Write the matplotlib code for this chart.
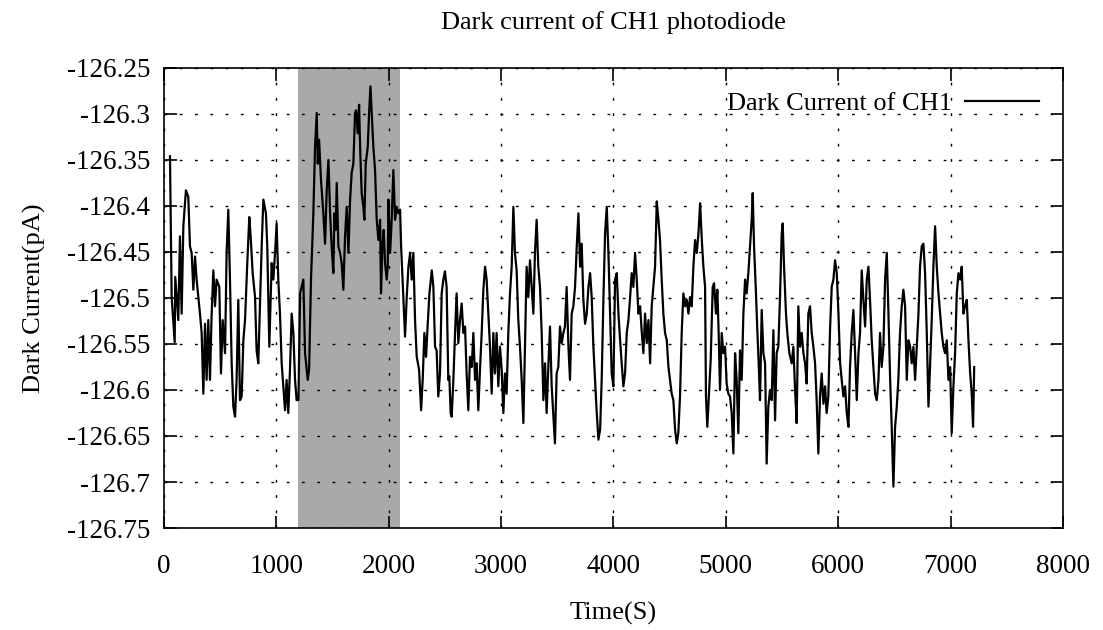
import matplotlib
matplotlib.use("Agg")
import matplotlib.pyplot as plt
from matplotlib.ticker import FuncFormatter

# time (s) and dark current (pA)
time = [53, 68, 95, 100, 127, 142, 157, 172, 195, 216, 231, 246, 261, 276, 290, 320, 335, 350, 365, 379,
        394, 409, 424, 439, 454, 468, 492, 507, 522, 543, 557, 572, 587, 602, 617, 632, 646, 661, 676, 691,
        706, 721, 741, 759, 771, 789, 810, 824, 839, 854, 869, 884, 907, 919, 937, 958, 973, 988, 1002, 1017,
        1032, 1047, 1062, 1077, 1091, 1106, 1121, 1136, 1151, 1166, 1180, 1196, 1211, 1225, 1240, 1255, 1279, 1291, 1308, 1329,
        1344, 1359, 1368, 1380, 1397, 1418, 1433, 1448, 1463, 1478, 1492, 1507, 1516, 1528, 1537, 1552, 1567, 1581, 1596, 1611,
        1626, 1641, 1656, 1670, 1685, 1700, 1709, 1724, 1736, 1745, 1759, 1774, 1783, 1795, 1813, 1825, 1837, 1848, 1863, 1878,
        1893, 1908, 1923, 1931, 1943, 1955, 1967, 1982, 1991, 1997, 2012, 2026, 2041, 2056, 2071, 2086, 2101, 2110, 2130, 2145,
        2160, 2175, 2190, 2204, 2219, 2234, 2249, 2270, 2288, 2302, 2317, 2332, 2347, 2362, 2383, 2397, 2412, 2426, 2441, 2456,
        2471, 2486, 2500, 2515, 2530, 2539, 2551, 2560, 2575, 2590, 2604, 2619, 2634, 2649, 2664, 2679, 2693, 2708, 2723, 2738,
        2753, 2768, 2782, 2797, 2812, 2827, 2842, 2857, 2871, 2886, 2901, 2916, 2931, 2945, 2960, 2975, 2990, 3005, 3020, 3034,
        3049, 3064, 3079, 3094, 3109, 3123, 3138, 3153, 3168, 3183, 3198, 3212, 3227, 3242, 3257, 3272, 3287, 3301, 3316, 3331,
        3346, 3361, 3376, 3391, 3405, 3420, 3435, 3450, 3465, 3479, 3494, 3509, 3524, 3539, 3554, 3568, 3583, 3599, 3613, 3628,
        3643, 3658, 3673, 3688, 3703, 3717, 3732, 3747, 3762, 3777, 3792, 3806, 3821, 3836, 3851, 3866, 3881, 3895, 3910, 3925,
        3940, 3955, 3970, 3984, 3999, 4014, 4029, 4044, 4059, 4073, 4088, 4103, 4118, 4133, 4148, 4162, 4177, 4192, 4207, 4222,
        4237, 4252, 4266, 4281, 4296, 4311, 4326, 4340, 4355, 4370, 4385, 4400, 4414, 4429, 4444, 4459, 4474, 4489, 4503, 4518,
        4533, 4548, 4563, 4577, 4592, 4607, 4622, 4637, 4652, 4667, 4681, 4696, 4711, 4726, 4741, 4756, 4771, 4786, 4800, 4815,
        4823, 4835, 4853, 4865, 4883, 4895, 4912, 4924, 4936, 4948, 4963, 4978, 4993, 5007, 5022, 5037, 5052, 5067, 5082, 5096,
        5111, 5126, 5141, 5156, 5171, 5185, 5200, 5215, 5230, 5239, 5251, 5268, 5280, 5292, 5304, 5319, 5334, 5349, 5363, 5378,
        5393, 5408, 5423, 5438, 5452, 5467, 5482, 5497, 5506, 5518, 5535, 5547, 5565, 5586, 5601, 5616, 5630, 5645, 5660, 5675,
        5690, 5705, 5719, 5734, 5749, 5764, 5779, 5794, 5808, 5823, 5838, 5853, 5868, 5883, 5897, 5912, 5927, 5942, 5957, 5972,
        5987, 6002, 6017, 6031, 6046, 6061, 6076, 6091, 6105, 6120, 6135, 6150, 6165, 6180, 6194, 6209, 6224, 6239, 6254, 6269,
        6283, 6298, 6313, 6328, 6343, 6358, 6372, 6387, 6402, 6417, 6432, 6447, 6462, 6476, 6491, 6506, 6521, 6535, 6550, 6565,
        6580, 6595, 6610, 6625, 6640, 6654, 6669, 6684, 6699, 6714, 6728, 6743, 6758, 6773, 6788, 6803, 6817, 6832, 6847, 6862,
        6877, 6892, 6907, 6921, 6936, 6951, 6966, 6981, 6996, 7010, 7025, 7040, 7055, 7070, 7085, 7099, 7114, 7129, 7144, 7159,
        7174, 7188, 7200, 7210]
current = [-126.346, -126.499, -126.548, -126.477, -126.524, -126.433, -126.517, -126.422, -126.383, -126.390,
           -126.444, -126.451, -126.491, -126.455, -126.480, -126.517, -126.538, -126.604, -126.528, -126.589,
           -126.524, -126.589, -126.517, -126.470, -126.509, -126.480, -126.488, -126.582, -126.524, -126.560,
           -126.451, -126.404, -126.480, -126.571, -126.618, -126.629, -126.589, -126.502, -126.611, -126.607,
           -126.546, -126.524, -126.462, -126.412, -126.433, -126.473, -126.499, -126.557, -126.571, -126.509,
           -126.444, -126.393, -126.408, -126.444, -126.553, -126.462, -126.480, -126.451, -126.419, -126.480,
           -126.517, -126.571, -126.596, -126.622, -126.589, -126.625, -126.578, -126.517, -126.538, -126.589,
           -126.611, -126.611, -126.495, -126.488, -126.480, -126.560, -126.589, -126.578, -126.480, -126.408,
           -126.336, -126.299, -126.354, -126.328, -126.372, -126.408, -126.441, -126.383, -126.350, -126.408,
           -126.444, -126.473, -126.408, -126.426, -126.375, -126.444, -126.451, -126.462, -126.491, -126.433,
           -126.401, -126.451, -126.393, -126.364, -126.354, -126.299, -126.296, -126.321, -126.290, -126.336,
           -126.386, -126.401, -126.415, -126.354, -126.336, -126.299, -126.270, -126.299, -126.336, -126.361,
           -126.415, -126.437, -126.415, -126.495, -126.444, -126.426, -126.462, -126.480, -126.466, -126.393,
           -126.451, -126.415, -126.361, -126.415, -126.401, -126.408, -126.404, -126.444, -126.499, -126.542,
           -126.499, -126.466, -126.451, -126.480, -126.451, -126.524, -126.564, -126.578, -126.622, -126.589,
           -126.538, -126.564, -126.528, -126.495, -126.470, -126.488, -126.553, -126.557, -126.607, -126.582,
           -126.495, -126.480, -126.471, -126.488, -126.589, -126.585, -126.625, -126.629, -126.589, -126.538,
           -126.495, -126.549, -126.524, -126.506, -126.538, -126.531, -126.582, -126.622, -126.564, -126.575,
           -126.538, -126.589, -126.571, -126.622, -126.578, -126.538, -126.491, -126.466, -126.480, -126.517,
           -126.553, -126.604, -126.538, -126.582, -126.538, -126.596, -126.553, -126.578, -126.625, -126.582,
           -126.604, -126.538, -126.495, -126.466, -126.401, -126.451, -126.470, -126.524, -126.553, -126.589,
           -126.636, -126.553, -126.466, -126.499, -126.459, -126.488, -126.517, -126.451, -126.415, -126.466,
           -126.488, -126.538, -126.611, -126.571, -126.625, -126.575, -126.531, -126.596, -126.629, -126.658,
           -126.582, -126.575, -126.531, -126.549, -126.538, -126.531, -126.488, -126.553, -126.589, -126.517,
           -126.509, -126.488, -126.444, -126.408, -126.466, -126.441, -126.502, -126.528, -126.517, -126.488,
           -126.473, -126.499, -126.553, -126.589, -126.625, -126.654, -126.643, -126.589, -126.502, -126.430,
           -126.401, -126.451, -126.517, -126.582, -126.596, -126.480, -126.473, -126.517, -126.546, -126.571,
           -126.596, -126.582, -126.538, -126.524, -126.499, -126.473, -126.488, -126.451, -126.480, -126.517,
           -126.509, -126.538, -126.560, -126.517, -126.549, -126.524, -126.571, -126.509, -126.488, -126.466,
           -126.395, -126.415, -126.437, -126.480, -126.517, -126.538, -126.546, -126.575, -126.589, -126.604,
           -126.611, -126.643, -126.658, -126.647, -126.607, -126.538, -126.495, -126.509, -126.502, -126.517,
           -126.499, -126.509, -126.466, -126.437, -126.451, -126.430, -126.397, -126.437, -126.466, -126.488,
           -126.607, -126.640, -126.596, -126.567, -126.488, -126.484, -126.517, -126.491, -126.538, -126.600,
           -126.538, -126.560, -126.553, -126.593, -126.604, -126.607, -126.625, -126.669, -126.560, -126.589,
           -126.647, -126.557, -126.589, -126.517, -126.480, -126.495, -126.473, -126.444, -126.415, -126.386,
           -126.444, -126.495, -126.535, -126.571, -126.611, -126.513, -126.560, -126.571, -126.680, -126.618,
           -126.600, -126.611, -126.535, -126.633, -126.560, -126.553, -126.499, -126.430, -126.419, -126.466,
           -126.517, -126.538, -126.560, -126.571, -126.553, -126.600, -126.636, -126.509, -126.553, -126.538,
           -126.560, -126.571, -126.593, -126.517, -126.509, -126.538, -126.553, -126.571, -126.611, -126.669,
           -126.607, -126.582, -126.615, -126.596, -126.625, -126.607, -126.535, -126.488, -126.480, -126.459,
           -126.473, -126.517, -126.571, -126.589, -126.607, -126.596, -126.625, -126.640, -126.575, -126.538,
           -126.513, -126.560, -126.611, -126.560, -126.538, -126.470, -126.502, -126.531, -126.480, -126.466,
           -126.502, -126.546, -126.575, -126.604, -126.611, -126.589, -126.538, -126.575, -126.553, -126.480,
           -126.451, -126.517, -126.589, -126.640, -126.705, -126.640, -126.618, -126.589, -126.538, -126.509,
           -126.491, -126.509, -126.589, -126.546, -126.553, -126.571, -126.553, -126.589, -126.553, -126.517,
           -126.466, -126.444, -126.441, -126.473, -126.538, -126.618, -126.575, -126.524, -126.466, -126.422,
           -126.466, -126.495, -126.517, -126.538, -126.553, -126.560, -126.546, -126.589, -126.575, -126.647,
           -126.596, -126.560, -126.495, -126.473, -126.480, -126.466, -126.517, -126.509, -126.502, -126.546,
           -126.582, -126.604, -126.640, -126.575]

# highlighted interval
span_start = 1190
span_end = 2100

xticks = [0, 1000, 2000, 3000, 4000, 5000, 6000, 7000, 8000]
yticks = [-126.75, -126.7, -126.65, -126.6, -126.55, -126.5, -126.45, -126.4, -126.35, -126.3, -126.25]

plt.rcParams['font.family'] = ['Liberation Serif', 'DejaVu Serif']
plt.rcParams['axes.unicode_minus'] = False

fig = plt.figure(figsize=(11.03, 6.30), dpi=100)
ax = fig.add_axes([0.1487, 0.1619, 0.8150, 0.7302])

ax.axvspan(span_start, span_end, color='#a9a9a9', lw=0, zorder=0)
ax.plot(time, current, color='black', lw=1.6, label='Dark Current of CH1', zorder=2)

ax.set_xlim(0, 8000)
ax.set_ylim(-126.75, -126.25)
ax.set_xticks(xticks)
ax.set_yticks(yticks)
ax.yaxis.set_major_formatter(FuncFormatter(lambda v, p: '%g' % v))
ax.tick_params(direction='in', length=9, width=1.2, top=True, right=True, labelsize=19.5, pad=10)
ax.tick_params(axis='x', pad=19)
ax.grid(True, color='black', lw=1.0, linestyle=(0, (2, 9)))
ax.set_axisbelow('line')
for s in ax.spines.values():
    s.set_linewidth(1.2)

ax.set_title('Dark current of CH1 photodiode', fontsize=19, pad=28)
ax.set_xlabel('Time(S)', fontsize=19, labelpad=16)
ax.set_ylabel('Dark Current(pA)', fontsize=19, labelpad=15)

ax.legend(loc='upper right', frameon=False, fontsize=19, markerfirst=False,
          handlelength=2.8, borderaxespad=0.5, handletextpad=0.5)

fig.savefig('out.png', dpi=100)
